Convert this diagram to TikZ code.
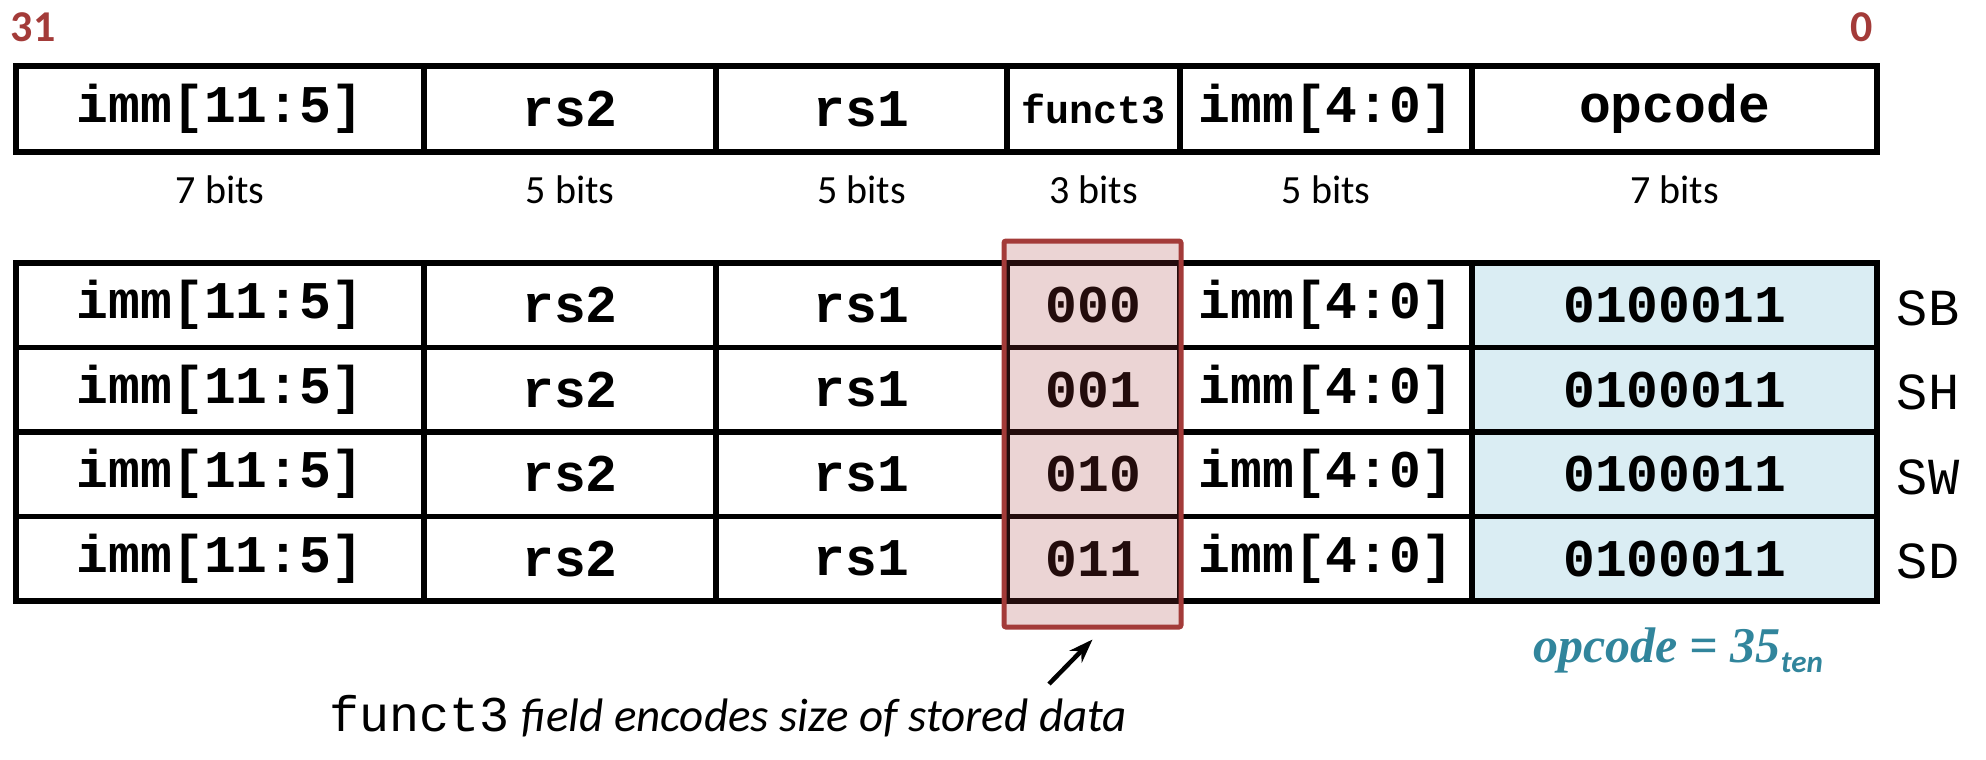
\documentclass[tikz,border=0pt]{standalone}
\usepackage{fontspec}
\setmainfont{Carlito}
\newfontfamily\monof{Liberation Mono}
\newfontfamily\serf{Liberation Serif}
\usetikzlibrary{arrows.meta,calc}
\definecolor{bitred}{HTML}{A33B39}
\definecolor{opblue}{HTML}{DAEDF3}
\definecolor{opteal}{HTML}{31859C}
\tikzset{
  cellbox/.style={draw=black, line width=5.5pt, inner sep=0pt, minimum height=84.5pt,
    font=\monof\bfseries\fontsize{53}{56}\selectfont},
  bitlab/.style={font=\fontsize{40}{44}\selectfont},
  bitnum/.style={font=\bfseries\fontsize{44}{48}\selectfont, text=bitred},
  instlab/.style={font=\monof\fontsize{52}{56}\selectfont},
  hlbox/.style={draw=bitred, line width=5pt, fill=bitred, fill opacity=0.22, rounded corners=2pt, inner sep=0pt},
  arr/.style={-{Stealth[length=24pt,width=17pt]}, line width=4.5pt}
}
\begin{document}
\begin{tikzpicture}[x=1pt,y=-1pt]
\path[use as bounding box] (0,0) rectangle (1986,760);
% top row (column edges 16,424,716,1007,1180,1472,1877)
\node[cellbox, minimum width=408pt, minimum height=86pt] (t1) at (220,109) {imm[11:5]};
\node[cellbox, minimum width=292pt, minimum height=86pt] (t2) at (570,109) {rs2};
\node[cellbox, minimum width=291pt, minimum height=86pt] (t3) at (861.5,109) {rs1};
\node[cellbox, minimum width=173pt, minimum height=86pt, font=\monof\bfseries\fontsize{40}{44}\selectfont] (t4) at (1093.5,109) {funct3};
\node[cellbox, minimum width=292pt, minimum height=86pt] (t5) at (1326,109) {imm[4:0]};
\node[cellbox, minimum width=405pt, minimum height=86pt] (t6) at (1674.5,109) {opcode};
% bit labels
\node[bitlab] (b1) at (220,190) {7 bits};
\node[bitlab] (b2) at (570,190) {5 bits};
\node[bitlab] (b3) at (861.5,190) {5 bits};
\node[bitlab] (b4) at (1093.5,190) {3 bits};
\node[bitlab] (b5) at (1326,190) {5 bits};
\node[bitlab] (b6) at (1674.5,190) {7 bits};
% bit numbers
\node[bitnum] (n31) at (33,27) {31};
\node[bitnum] (n0) at (1862,27) {0};
% instruction rows
\foreach \r/\code/\name in {1/000/SB,2/001/SH,3/010/SW,4/011/SD}{
  \pgfmathsetmacro{\yc}{263+84.5*(\r-0.5)}
  \node[cellbox, minimum width=408pt] (r\r c1) at (220,\yc) {imm[11:5]};
  \node[cellbox, minimum width=292pt] (r\r c2) at (570,\yc) {rs2};
  \node[cellbox, minimum width=291pt] (r\r c3) at (861.5,\yc) {rs1};
  \node[cellbox, minimum width=173pt] (r\r c4) at (1093.5,\yc) {\code};
  \node[cellbox, minimum width=292pt] (r\r c5) at (1326,\yc) {imm[4:0]};
  \node[cellbox, minimum width=405pt, fill=opblue] (r\r c6) at (1674.5,\yc) {0100011};
  \node[instlab] (lab\r) at (1928,\yc+3) {\name};
}
% highlight box over funct3 column
\node[hlbox, minimum width=177pt, minimum height=386pt] (hl) at (1092.5,434) {};
% opcode note
\node[text=opteal, inner sep=0pt] (opnote) at (1678,650)
  {{\serf\bfseries\itshape\fontsize{50}{54}\selectfont opcode = 35}\raisebox{-10pt}{\bfseries\itshape\fontsize{31}{34}\selectfont ten}};
% caption and arrow
\node[inner sep=0pt] (cap) at (728,716)
  {\monof\fontsize{50}{54}\selectfont funct3\hspace{12pt}\normalfont\itshape\fontsize{47}{50}\selectfont field encodes size of stored data};
\coordinate (arrtail) at (1049,684);
\draw[arr] (arrtail) -- ($(hl.south)+(0,10)$);
\end{tikzpicture}
\end{document}
